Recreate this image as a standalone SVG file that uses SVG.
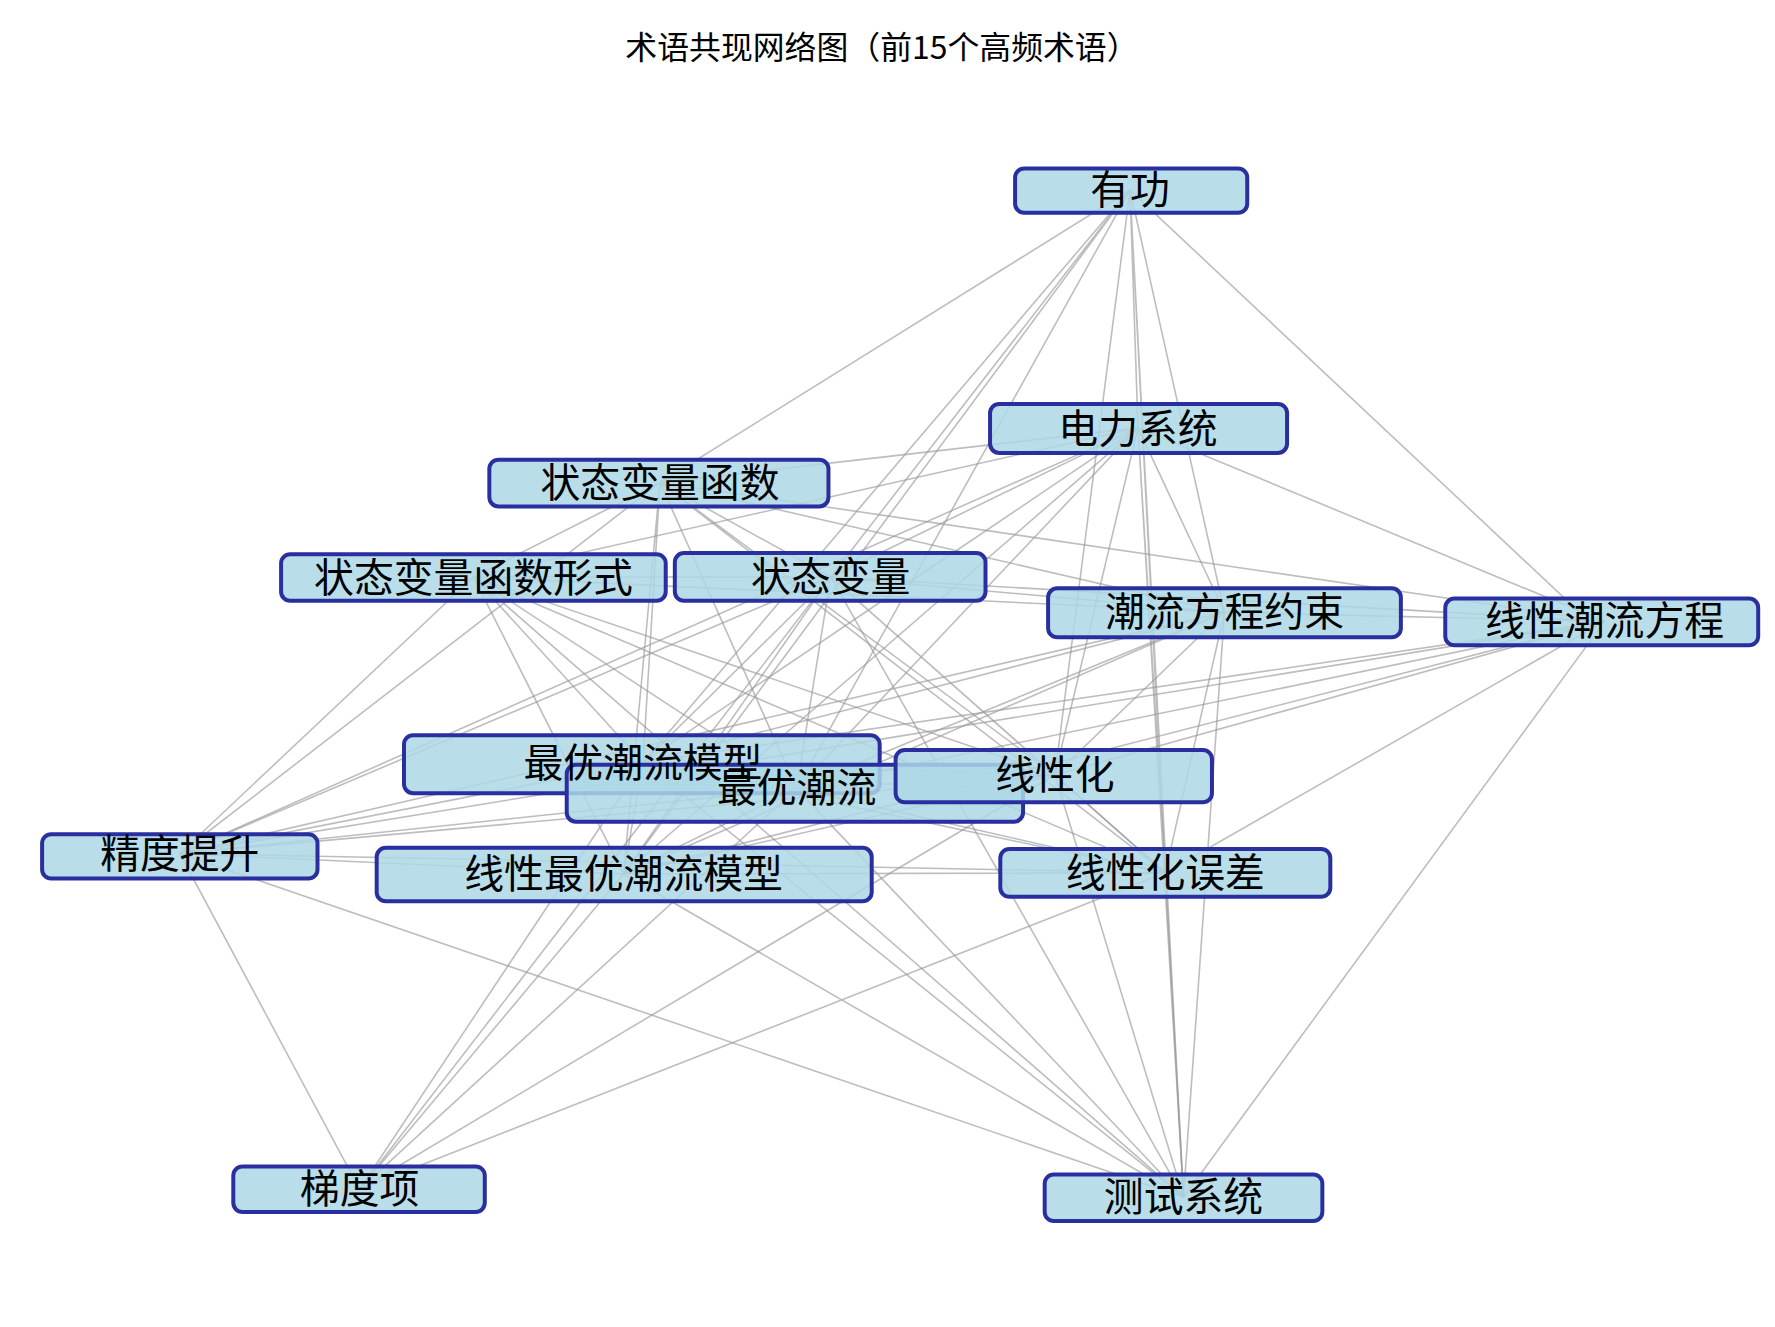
<svg xmlns="http://www.w3.org/2000/svg" width="1775" height="1327" viewBox="0 0 1775 1327">
<style>
.e{stroke:#999;stroke-opacity:0.65;stroke-width:1.4;fill:none}
.n rect{fill:#add8e6;fill-opacity:0.85;stroke:#2a2fa0;stroke-width:3.5}
.l text{font-family:"Noto Sans CJK SC","Noto Sans",sans-serif;font-size:35px;text-anchor:middle;fill:#000}
.t{font-family:"Noto Sans CJK SC","Noto Sans",sans-serif;font-size:28px;text-anchor:middle;fill:#000}
</style>
<rect width="1775" height="1327" fill="#fff"/>
<g transform="scale(1.138)">
<text class="t" x="775" y="52">术语共现网络图（前15个高频术语）</text>
<g id="edges">
<path class="e" d="M993,167L580,424M993,167L1000,376M993,167L730,507M993,167L1076,538M993,167L1390,540M993,167L565,670M993,167L700,693M993,167L927,681M993,167L548,768M993,167L1024,767M993,167L1040,1052"/>
<path class="e" d="M1000,376L580,424M1000,376L416,507M1000,376L730,507M1000,376L1076,538M1000,376L1410,546M1000,376L565,670M1000,376L700,693M1000,376L927,681M1000,376L158,750M1000,376L548,768M1000,376L1024,767M1000,376L1040,1052"/>
<path class="e" d="M580,424L416,507M580,424L730,507M580,424L1076,538M580,424L1410,546M580,424L565,670M580,424L700,693M580,424L927,681M580,424L548,768M580,424L1024,767M580,424L158,750"/>
<path class="e" d="M416,507L730,507M416,507L1076,538M416,507L927,681M416,507L700,693M416,507L565,670M416,507L548,768M416,507L1024,767M416,507L158,750M416,507L1040,1052"/>
<path class="e" d="M730,507L1076,538M730,507L1410,546M730,507L565,670M730,507L700,693M730,507L927,681M730,507L1024,767M730,507L548,768M730,507L158,750M730,507L316,1045M730,507L1040,1052"/>
<path class="e" d="M1076,538L1410,546M1076,538L565,670M1076,538L700,693M1076,538L927,681M1076,538L1024,767M1076,538L548,768M1076,538L158,750M1076,538L1040,1052"/>
<path class="e" d="M1410,546L565,670M1410,546L700,693M1410,546L927,681M1410,546L1024,767M1410,546L548,768M1410,546L158,750M1410,546L1040,1052"/>
<path class="e" d="M565,670L700,693M565,670L927,681M565,670L158,750M565,670L548,768M565,670L1024,767M565,670L316,1045M565,670L1040,1052"/>
<path class="e" d="M700,693L927,681M700,693L158,750M700,693L548,768M700,693L1024,767M700,693L316,1045M700,693L1040,1052"/>
<path class="e" d="M927,681L1024,767M927,681L158,750M927,681L548,768M927,681L316,1045M927,681L1040,1052"/>
<path class="e" d="M158,750L548,768M158,750L1024,767M158,750L316,1045M158,750L1040,1052"/>
<path class="e" d="M548,768L1024,767M548,768L316,1045M548,768L1040,1052M1024,767L316,1045M1024,767L1040,1052"/>
</g>
<g class="n">
<g id="n1"><rect x="892" y="148" width="204" height="39" rx="8"/></g>
<g id="n2"><rect x="870" y="355" width="261" height="43" rx="8"/></g>
<g id="n3"><rect x="430" y="404" width="298" height="41" rx="8"/></g>
<g id="n4"><rect x="247" y="487" width="338" height="41" rx="8"/></g>
<g id="n5"><rect x="593" y="486" width="273" height="42" rx="8"/></g>
<g id="n6"><rect x="921" y="517" width="310" height="43" rx="8"/></g>
<g id="n7"><rect x="1270" y="526" width="275" height="41" rx="8"/></g>
<g id="n8"><rect x="355" y="646" width="418" height="51" rx="8"/></g>
<g id="n9"><rect x="498" y="672" width="401" height="50" rx="8"/></g>
<g id="n10"><rect x="787" y="659" width="278" height="46" rx="8"/></g>
<g id="n11"><rect x="37" y="733" width="242" height="39" rx="8"/></g>
<g id="n12"><rect x="331" y="745" width="435" height="47" rx="8"/></g>
<g id="n13"><rect x="879" y="746" width="290" height="42" rx="8"/></g>
<g id="n14"><rect x="205" y="1025" width="221" height="40" rx="8"/></g>
<g id="n15"><rect x="918" y="1032" width="244" height="41" rx="8"/></g>
</g>
<g id="labels" class="l">
<text x="993" y="179">有功</text>
<text x="1000" y="389">电力系统</text>
<text x="580" y="437">状态变量函数</text>
<text x="416" y="520">状态变量函数形式</text>
<text x="730" y="519">状态变量</text>
<text x="1076" y="550">潮流方程约束</text>
<text x="1410" y="558">线性潮流方程</text>
<text x="565" y="683">最优潮流模型</text>
<text x="700" y="705">最优潮流</text>
<text x="927" y="693">线性化</text>
<text x="158" y="763">精度提升</text>
<text x="548" y="780">线性最优潮流模型</text>
<text x="1024" y="779">线性化误差</text>
<text x="316" y="1057">梯度项</text>
<text x="1040" y="1064">测试系统</text>
</g>
</g>
</svg>
